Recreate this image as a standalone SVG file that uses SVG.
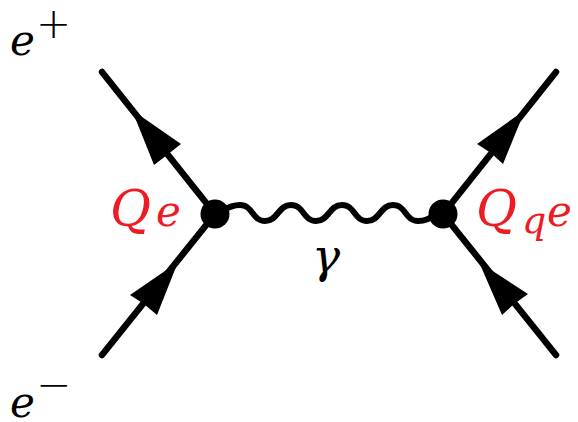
<svg xmlns="http://www.w3.org/2000/svg" width="578" height="422" viewBox="0 0 578 422">
<style>
.l{fill:none;stroke:#000;stroke-width:6.5;stroke-linecap:round}
.a{fill:#000}
.w{fill:none;stroke:#000;stroke-width:6}
text{font-family:'DejaVu Serif',serif;fill:#000}
.t{font-style:italic}
.p{font-family:'DejaVu Sans',sans-serif;font-weight:200}
.r{fill:#ed1c24}
</style>
<rect width="578" height="422" fill="#fff"/>
<g id="connectors">
<path class="l" d="M102 72L215 214"/>
<path class="a" d="M132 110L181 144L167 155L154 165Z"/>
<path class="l" d="M102 355L215 214"/>
<path class="a" d="M178 262L130 295L144 304L157 315Z"/>
<path class="l" d="M556 72L443 214"/>
<path class="a" d="M525 110L477 144L491 153L503 164Z"/>
<path class="l" d="M556 355L443 214"/>
<path class="a" d="M479 262L528 294L514 304L502 315Z"/>
<path class="w" d="M222 211C230 206 235 205 240 205C253 205 252 221 265 221C278 221 278 205 291 205C304 205 303 221 316 221C329 221 329 205 342 205C355 205 354 221 367 221C380 221 380 205 393 205C406 205 405 221 418 221C426 221 430 218 436 214"/>
</g>
<g id="v1"><circle class="a" cx="215" cy="214" r="14.5"/></g>
<g id="v2"><circle class="a" cx="443" cy="214" r="14.5"/></g>
<g id="ep"><text class="t" x="10" y="55" font-size="42">e</text><text class="p" x="36" y="38" font-size="42">+</text></g>
<g id="em"><text class="t" x="10" y="417" font-size="42">e</text><text class="p" x="36" y="399" font-size="42">−</text></g>
<g id="qe"><text class="t r" x="110" y="226" font-size="50">Q</text><text class="t r" x="156" y="226" font-size="42">e</text></g>
<g id="qqe"><text class="t r" x="476" y="226" font-size="50">Q</text><text class="t r" x="522" y="233" font-size="38">q</text><text class="t r" x="547" y="226" font-size="42">e</text></g>
<g id="gamma"><text class="t" x="312" y="272" font-size="47">γ</text></g>
</svg>
